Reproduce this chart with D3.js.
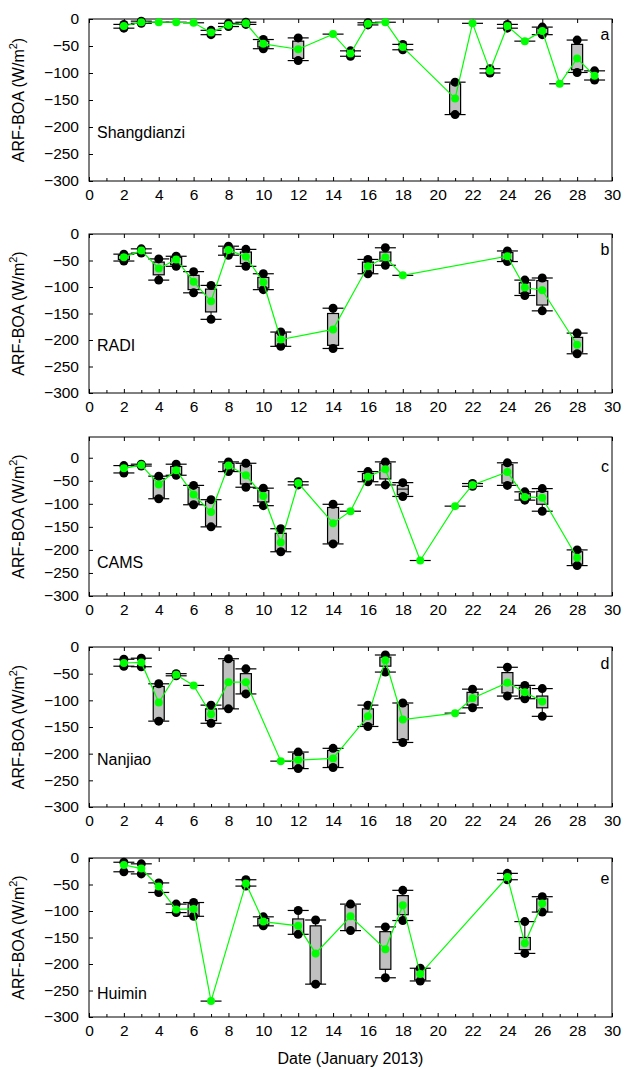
<!DOCTYPE html>
<html><head><meta charset="utf-8">
<script src="https://cdn.jsdelivr.net/npm/d3@7"></script>
<style>body{margin:0;background:#fff} svg{display:block;font-family:"Liberation Sans",Arial,sans-serif}</style>
</head><body><svg id="chart" width="625" height="1069"></svg>
<script>
// ---- tick values ----
const xMajorTicks = [0,2,4,6,8,10,12,14,16,18,20,22,24,26,28,30];
const xMinorTicks = [1,3,5,7,9,11,13,15,17,19,21,23,25,27,29];
const yTickValues = [0,-50,-100,-150,-200,-250,-300];

// ---- a: Shangdianzi ----  (null box = no box; null lo/hi = single value)
const aDays = [2,3,4,5,6,7,8,9,10,12,14,15,16,17,18,21,22,23,24,25,26,27,28,29];
const aLo   = [-17,-8,null,null,null,-29,-14,-10,-55,-77,null,-69,-11,null,-57,-177,null,-100,-17,null,-29,null,-99,-113];
const aQ1   = [null,null,null,null,null,null,null,null,-52,-73,null,null,null,null,null,-175,null,null,null,null,-27,null,-94,null];
const aQ3   = [null,null,null,null,null,null,null,null,-41,-41,null,null,null,null,null,-120,null,null,null,null,-17,null,-47,null];
const aHi   = [-10,-4,null,null,null,-21,-8,-6,-38,-35,null,-59,-7,null,-47,-117,null,-92,-10,null,-15,null,-39,-96];
const aMean = [-13,-6,-6,-6,-7,-25,-11,-8,-46,-56,-28,-64,-9,-6,-52,-147,-8,-96,-13,-41,-22,-120,-73,-105];

// ---- b: RADI ----
const bDays = [2,3,4,5,6,7,8,9,10,11,14,16,17,18,24,25,26,28];
const bLo   = [-51,-36,-87,-61,-111,-161,-40,-61,-105,-212,-216,-75,-59,null,-52,-116,-145,-226];
const bQ1   = [-48,null,-77,-58,-105,-147,-38,-56,-102,-211,-210,-73,-51,null,-50,-112,-134,-223];
const bQ3   = [-40,null,-53,-44,-78,-104,-26,-34,-82,-187,-150,-53,-34,null,-35,-92,-88,-195];
const bHi   = [-38,-28,-47,-42,-71,-97,-23,-29,-75,-185,-140,-48,-26,null,-32,-87,-83,-187];
const bMean = [-44,-31,-65,-48,-90,-127,-30,-43,-91,-199,-180,-61,-44,-78,-42,-101,-106,-209];

// ---- c: CAMS ----
const cDays = [2,3,4,5,6,7,8,9,10,11,12,14,15,16,17,18,19,21,22,24,25,26,28];
const cLo   = [-33,-18,-89,-38,-102,-150,-30,-64,-104,-204,-59,-187,null,-52,-59,-84,null,null,-62,-60,-92,-116,-234];
const cQ1   = [null,null,-87,-36,-100,-148,-28,-57,-96,-202,null,-185,null,-49,-46,-80,null,null,null,-55,-90,-101,-231];
const cQ3   = [null,null,-45,-19,-64,-94,-12,-16,-71,-164,null,-108,null,-34,-12,-60,null,null,null,-15,-78,-73,-204];
const cHi   = [-17,-14,-40,-14,-60,-91,-9,-12,-66,-154,-52,-101,null,-30,-9,-54,null,null,-56,-11,-74,-67,-200];
const cMean = [-23,-16,-58,-27,-80,-118,-17,-38,-83,-184,-55,-142,-116,-41,-25,null,-223,-105,-59,-31,-85,-87,-217];
const cMed  = [null,null,null,null,null,null,null,null,null,null,null,null,null,null,null,-68,null,null,null,null,null,null,null];

// ---- d: Nanjiao ----
const dDays = [2,3,4,5,6,7,8,9,11,12,14,16,17,18,21,22,24,25,26];
const dLo   = [-36,-37,-139,-54,null,-143,-116,-88,null,-228,-226,-149,-47,-179,null,-114,-92,-97,-130];
const dQ1   = [null,null,-137,null,null,-138,-115,-87,null,-226,-225,-146,-36,-174,null,-109,-86,-95,-114];
const dQ3   = [null,null,-74,null,null,-116,-25,-50,null,-200,-194,-116,-19,-108,null,-85,-48,-75,-92];
const dHi   = [-23,-21,-69,-50,null,-109,-22,-41,null,-197,-190,-109,-15,-105,null,-79,-38,-72,-78];
const dMean = [-30,-29,-104,-52,-72,-126,-66,-66,-214,-212,-209,-130,-25,-136,-124,-96,-67,-85,-102];

// ---- e: Huimin ----
const eDays = [2,3,4,5,6,7,9,10,12,13,15,17,18,19,24,25,26];
const eLo   = [-26,-30,-65,-103,-110,null,-53,-128,-144,-238,-137,-226,-118,-232,-41,-180,-102];
const eQ1   = [null,null,null,null,-110,null,null,-127,-143,-237,-137,-210,-107,-230,null,-173,-101];
const eQ3   = [null,null,null,null,-85,null,null,-114,-115,-128,-90,-139,-71,-209,null,-150,-77];
const eHi   = [-8,-11,-47,-87,-84,null,-41,-111,-99,-117,-87,-130,-61,-208,-29,-120,-73];
const eMean = [-13,-20,-54,-97,-96,-270,-48,-120,-128,-180,-110,-172,-89,-219,-36,-161,-86];

const stationNames = ["Shangdianzi","RADI","CAMS","Nanjiao","Huimin"];
const panelLetters = ["a","b","c","d","e"];
const yTopValues = [0,0,45,0,0];

const seriesList = [
  {days:aDays, lo:aLo, q1:aQ1, q3:aQ3, hi:aHi, mean:aMean},
  {days:bDays, lo:bLo, q1:bQ1, q3:bQ3, hi:bHi, mean:bMean},
  {days:cDays, lo:cLo, q1:cQ1, q3:cQ3, hi:cHi, mean:cMean, med:cMed},
  {days:dDays, lo:dLo, q1:dQ1, q3:dQ3, hi:dHi, mean:dMean},
  {days:eDays, lo:eLo, q1:eQ1, q3:eQ3, hi:eHi, mean:eMean}
];

// ---- layout (styles) ----
const L = 89, R = 612;
const tops = [19,234,437,647,858];
const bottoms = [181,393,596,807,1017];
const nameFrac = [0.70,0.70,0.79,0.70,0.85];
const letterFrac = [0.095,0.099,0.185,0.105,0.127];
const BOXW = 11, CAPW = 21, DOTR = 4.5, MEANR = 4;
const GREEN = "#00ff00";
const FONT = "Liberation Sans, Arial, sans-serif";

const svg = d3.select("#chart");
const x = d3.scaleLinear().domain([0,30]).range([L,R]);

seriesList.forEach((s,i)=>{
  const top = tops[i], bot = bottoms[i];
  const y = d3.scaleLinear().domain([-300,yTopValues[i]]).range([bot,top]);
  const g = svg.append("g");

  // frame
  g.append("rect").attr("x",L).attr("y",top).attr("width",R-L).attr("height",bot-top)
    .attr("fill","none").attr("stroke","#000").attr("stroke-width",1);

  // bottom axis (ticks inward)
  const xb = g.append("g").attr("transform",`translate(0,${bot})`)
    .call(d3.axisBottom(x).tickValues(xMajorTicks).tickSize(-4).tickPadding(8).tickFormat(d3.format("d")));
  xb.select(".domain").remove();
  xb.selectAll("text").attr("font-size",15.5).attr("font-family",FONT).attr("fill","#000");
  const xbm = g.append("g").attr("transform",`translate(0,${bot})`)
    .call(d3.axisBottom(x).tickValues(xMinorTicks).tickSize(-3).tickFormat(""));
  xbm.select(".domain").remove();
  // top axis ticks
  const xt = g.append("g").attr("transform",`translate(0,${top})`)
    .call(d3.axisTop(x).tickValues(xMajorTicks).tickSize(-4).tickFormat(""));
  xt.select(".domain").remove();

  // left axis
  const ya = g.append("g").attr("transform",`translate(${L},0)`)
    .call(d3.axisLeft(y).tickValues(yTickValues).tickSize(-4).tickPadding(10).tickFormat(d3.format("d")));
  ya.select(".domain").remove();
  ya.selectAll("text").attr("font-size",15.5).attr("font-family",FONT).attr("fill","#000");

  // y title
  const yt = g.append("text").attr("transform",`translate(24,${(top+bot)/2}) rotate(-90)`)
    .attr("text-anchor","middle").attr("font-size",16).attr("fill","#000");
  yt.append("tspan").text("ARF-BOA (W/m");
  yt.append("tspan").text("2").attr("font-size",11).attr("dy",-7);
  yt.append("tspan").text(")").attr("dy",7);

  // station name & letter
  g.append("text").attr("x",L+8).attr("y",top+nameFrac[i]*(bot-top)).attr("dy","0.35em")
    .attr("font-size",16).text(stationNames[i]);
  g.append("text").attr("x",R-7).attr("y",top+letterFrac[i]*(bot-top)).attr("dy","0.35em")
    .attr("text-anchor","middle").attr("font-size",16).text(panelLetters[i]);

  const rows = s.days.map((d,k)=>({day:d, lo:s.lo[k], q1:s.q1[k], q3:s.q3[k], hi:s.hi[k], mean:s.mean[k], med:s.med?s.med[k]:null}));

  // whiskers
  rows.filter(r=>r.lo!==null).forEach(r=>{
    const cx = x(r.day);
    g.append("line").attr("x1",cx).attr("x2",cx).attr("y1",y(r.lo)).attr("y2",y(r.hi))
      .attr("stroke","#000").attr("stroke-width",1);
  });
  // boxes
  rows.filter(r=>r.q1!==null).forEach(r=>{
    g.append("rect").attr("x",x(r.day)-BOXW/2).attr("y",y(r.q3)).attr("width",BOXW)
      .attr("height",Math.max(1,y(r.q1)-y(r.q3))).attr("fill","#c0c0c0").attr("stroke","#000").attr("stroke-width",1.2);
    if(r.med!==null){
      g.append("line").attr("x1",x(r.day)-BOXW/2).attr("x2",x(r.day)+BOXW/2).attr("y1",y(r.med)).attr("y2",y(r.med))
        .attr("stroke","#000").attr("stroke-width",1);
    }
  });
  // caps
  rows.forEach(r=>{
    const cx = x(r.day);
    const vals = r.lo!==null ? [r.lo,r.hi] : [r.mean];
    vals.forEach(v=>{
      g.append("line").attr("x1",cx-CAPW/2).attr("x2",cx+CAPW/2).attr("y1",y(v)).attr("y2",y(v))
        .attr("stroke","#000").attr("stroke-width",1.2);
    });
  });
  // extreme dots
  rows.filter(r=>r.lo!==null).forEach(r=>{
    [r.lo,r.hi].forEach(v=>{
      g.append("circle").attr("cx",x(r.day)).attr("cy",y(v)).attr("r",DOTR).attr("fill","#000");
    });
  });
  // mean line
  const meanRows = rows.filter(r=>r.mean!==null);
  g.append("path").datum(meanRows)
    .attr("d",d3.line().x(r=>x(r.day)).y(r=>y(r.mean)))
    .attr("fill","none").attr("stroke",GREEN).attr("stroke-width",1.2);
  g.selectAll("circle.mean").data(meanRows).enter().append("circle").attr("class","mean")
    .attr("cx",r=>x(r.day)).attr("cy",r=>y(r.mean)).attr("r",MEANR).attr("fill",GREEN);
});

svg.append("text").attr("x",(L+R)/2).attr("y",1064).attr("text-anchor","middle")
  .attr("font-size",16).text("Date (January 2013)");
</script></body></html>
